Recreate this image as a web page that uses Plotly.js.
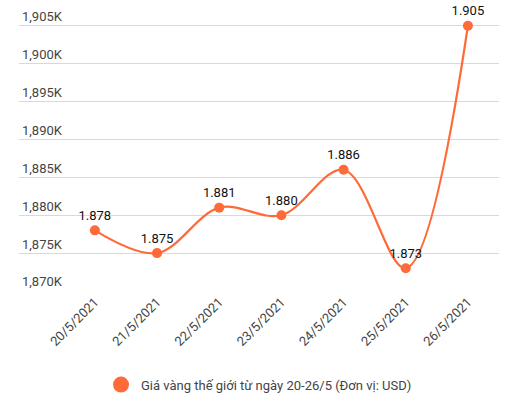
<!DOCTYPE html>
<html>
<head>
<meta charset="utf-8">
<script src="https://cdn.plot.ly/plotly-3.0.1.min.js"></script>
<style>html,body{margin:0;padding:0;background:#fff;}#chart{width:526px;height:402px;}</style>
</head>
<body>
<div id="chart"></div>
<script>
const dates = ['20/5/2021','21/5/2021','22/5/2021','23/5/2021','24/5/2021','25/5/2021','26/5/2021'];
const prices = [1878, 1875, 1881, 1880, 1886, 1873, 1905];
const priceLabels = ['1.878','1.875','1.881','1.880','1.886','1.873','1.905'];
const yTickVals = [1870, 1875, 1880, 1885, 1890, 1895, 1900, 1905];
const yTickText = ['1,870K','1,875K','1,880K','1,885K','1,890K','1,895K','1,900K','1,905K'];
const seriesName = 'Giá vàng thế giới từ ngày 20-26/5 (Đơn vị: USD)';
const orange = '#ff6a39';

const traces = [
  {
    x: dates, y: prices, text: priceLabels,
    type: 'scatter', mode: 'lines+markers+text',
    line: {color: orange, width: 2.2, shape: 'spline', smoothing: 1},
    marker: {color: orange, size: 10},
    textposition: 'top center',
    textfont: {family: 'Roboto, sans-serif', size: 13, color: '#111'},
    cliponaxis: false,
    showlegend: false,
    hoverinfo: 'skip'
  },
  {
    x: [null], y: [null], type: 'scatter', mode: 'markers',
    name: seriesName,
    marker: {color: orange, size: 16},
    showlegend: true
  }
];

const layout = {
  width: 526, height: 402,
  margin: {l: 19, r: 27, t: 3, b: 111, autoexpand: false},
  paper_bgcolor: '#fff', plot_bgcolor: '#fff',
  font: {family: 'Roboto, sans-serif', size: 13, color: '#444'},
  xaxis: {
    type: 'category', range: [-1.22, 6.5], automargin: false,
    showgrid: false, zeroline: false, showline: false,
    tickangle: -45, ticks: '', fixedrange: true,
    tickfont: {size: 13, color: '#444'}
  },
  yaxis: {
    range: [1870, 1908], automargin: false,
    tickmode: 'array', tickvals: yTickVals, ticktext: yTickText,
    ticklabelposition: 'inside top',
    showgrid: true, gridcolor: '#d9d9d9', gridwidth: 1,
    zeroline: false, showline: false, ticks: '',
    tickfont: {size: 13, color: '#444'}
  },
  showlegend: true,
  legend: {
    orientation: 'h', x: 0.5, xanchor: 'center', y: -0.325, yanchor: 'middle',
    font: {size: 13, color: '#444'}, itemsizing: 'trace'
  }
};

Plotly.newPlot('chart', traces, layout, {displayModeBar: false, staticPlot: true});
</script>
</body>
</html>
